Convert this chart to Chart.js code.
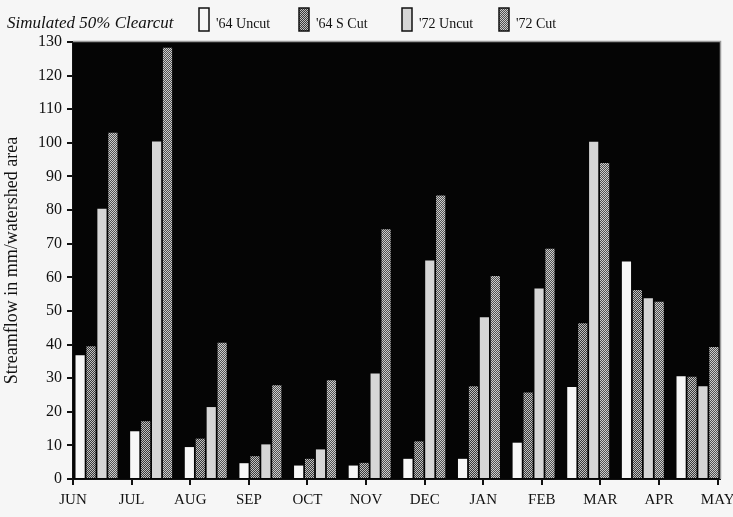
<!DOCTYPE html>
<html>
<head>
<meta charset="utf-8">
<script src="https://cdn.jsdelivr.net/npm/chart.js@4/dist/chart.umd.min.js"></script>
<style>
  html, body { margin: 0; padding: 0; background: #f6f6f6; }
  #wrap { width: 733px; height: 517px; position: relative; overflow: hidden; }
</style>
</head>
<body>
<div id="wrap"><canvas id="c" width="733" height="517"></canvas></div>
<script>
// ---- data ----
const months = ['JUN','JUL','AUG','SEP','OCT','NOV','DEC','JAN','FEB','MAR','APR','MAY'];
const seriesNames = ["'64 Uncut", "'64 S Cut", "'72 Uncut", "'72 Cut"];
const uncut64 = [36.8, 14.2, 9.5, 4.7, 4.0, 4.0, 6.0, 6.0, 10.8, 27.4, 64.7, 30.6];
const sCut64  = [39.5, 17.2, 12.0, 6.8, 6.0, 4.8, 11.2, 27.6, 25.7, 46.3, 56.2, 30.4];
const uncut72 = [80.4, 100.4, 21.4, 10.3, 8.8, 31.4, 65.0, 48.1, 56.7, 100.3, 53.8, 27.6];
const cut72   = [103.0, 128.3, 40.5, 27.9, 29.4, 74.3, 84.3, 60.4, 68.5, 94.0, 52.7, 39.3];
const yMin = 0, yMax = 130, yStep = 10;
const chartTitle = 'Simulated 50% Clearcut';
const yTitle = 'Streamflow in mm/watershed area';

// ---- patterns ----
function checker(light, dark) {
  const p = document.createElement('canvas');
  p.width = 2; p.height = 2;
  const g = p.getContext('2d');
  g.fillStyle = dark; g.fillRect(0, 0, 2, 2);
  g.fillStyle = light; g.fillRect(0, 0, 1, 1); g.fillRect(1, 1, 1, 1);
  return g.createPattern(p, 'repeat');
}
const ctx = document.getElementById('c').getContext('2d');
const fills = [
  '#f7f7f7',
  checker('#c0c0c0', '#3a3a3a'),
  '#d6d6d6',
  checker('#cccccc', '#505050')
];
const seriesData = [uncut64, sCut64, uncut72, cut72];

const toPts = arr => arr.map((v, i) => ({ x: i, y: v }));

const plotBg = {
  id: 'plotBg',
  beforeDatasetsDraw(chart) {
    const a = chart.chartArea, c = chart.ctx;
    c.save();
    c.fillStyle = '#050505';
    c.fillRect(a.left, a.top, a.right - a.left, a.bottom - a.top);
    c.strokeStyle = '#9a9a9a';
    c.lineWidth = 1.5;
    c.beginPath();
    c.moveTo(a.left, a.top - 0.5);
    c.lineTo(a.right + 0.5, a.top - 0.5);
    c.lineTo(a.right + 0.5, a.bottom);
    c.stroke();
    c.restore();
  }
};

const legendPlug = {
  id: 'legendPlug',
  afterDraw(chart) {
    const c = chart.ctx;
    c.save();
    c.fillStyle = '#111';
    c.textBaseline = 'alphabetic';
    c.font = 'italic 17px "Liberation Serif", serif';
    c.fillText(chartTitle, 7, 28);
    const boxX = [199, 299, 402, 499];
    c.font = '14px "Liberation Serif", serif';
    chart.data.datasets.forEach((ds, i) => {
      const x = boxX[i];
      c.fillStyle = ds.backgroundColor;
      c.fillRect(x, 8, 10, 23);
      c.strokeStyle = '#111';
      c.lineWidth = 1.5;
      c.strokeRect(x, 8, 10, 23);
      c.fillStyle = '#111';
      c.fillText(ds.label, x + 17, 28);
    });
    c.restore();
  }
};

const serif = '"Liberation Serif", "Times New Roman", serif';

new Chart(ctx, {
  type: 'bar',
  data: {
    datasets: seriesData.map((arr, i) => ({
      label: seriesNames[i],
      data: toPts(arr),
      backgroundColor: fills[i],
      borderWidth: 0,
      xAxisID: 'xb',
      categoryPercentage: 0.8,
      barPercentage: 0.84
    }))
  },
  options: {
    responsive: false,
    animation: false,
    layout: { padding: { top: 42, right: 13, left: 0, bottom: 0 } },
    plugins: { legend: { display: false }, tooltip: { enabled: false } },
    scales: {
      xb: {
        type: 'linear',
        display: false,
        offset: false,
        grid: { offset: false },
        min: -0.430,
        max: 11.412
      },
      x: {
        type: 'linear',
        position: 'bottom',
        offset: false,
        min: 0,
        max: 11.04,
        afterBuildTicks(s) { s.ticks = months.map((m, i) => ({ value: i })); },
        afterFit(s) { s.height = 38; s.paddingLeft = 0; s.paddingRight = 0; },
        grid: { offset: false, drawOnChartArea: false, drawTicks: true, tickLength: 6, color: '#111', lineWidth: 2 },
        border: { color: '#111', width: 2 },
        ticks: {
          autoSkip: false,
          maxRotation: 0,
          padding: 6,
          color: '#111',
          font: { family: serif, size: 15 },
          callback: (v) => months[Math.round(v)]
        }
      },
      y: {
        min: yMin,
        max: yMax,
        afterFit(s) { s.width = 73; s.paddingTop = 0; s.paddingBottom = 0; },
        ticks: {
          stepSize: yStep,
          padding: 5,
          color: '#111',
          font: { family: serif, size: 16 }
        },
        grid: { drawOnChartArea: false, drawTicks: true, tickLength: 6, color: '#111', lineWidth: 2 },
        border: { color: '#111', width: 3 },
        title: {
          display: true,
          text: yTitle,
          color: '#111',
          font: { family: serif, size: 18 },
          padding: { top: 1, bottom: 0 }
        }
      }
    }
  },
  plugins: [plotBg, legendPlug]
});
</script>
</body>
</html>
